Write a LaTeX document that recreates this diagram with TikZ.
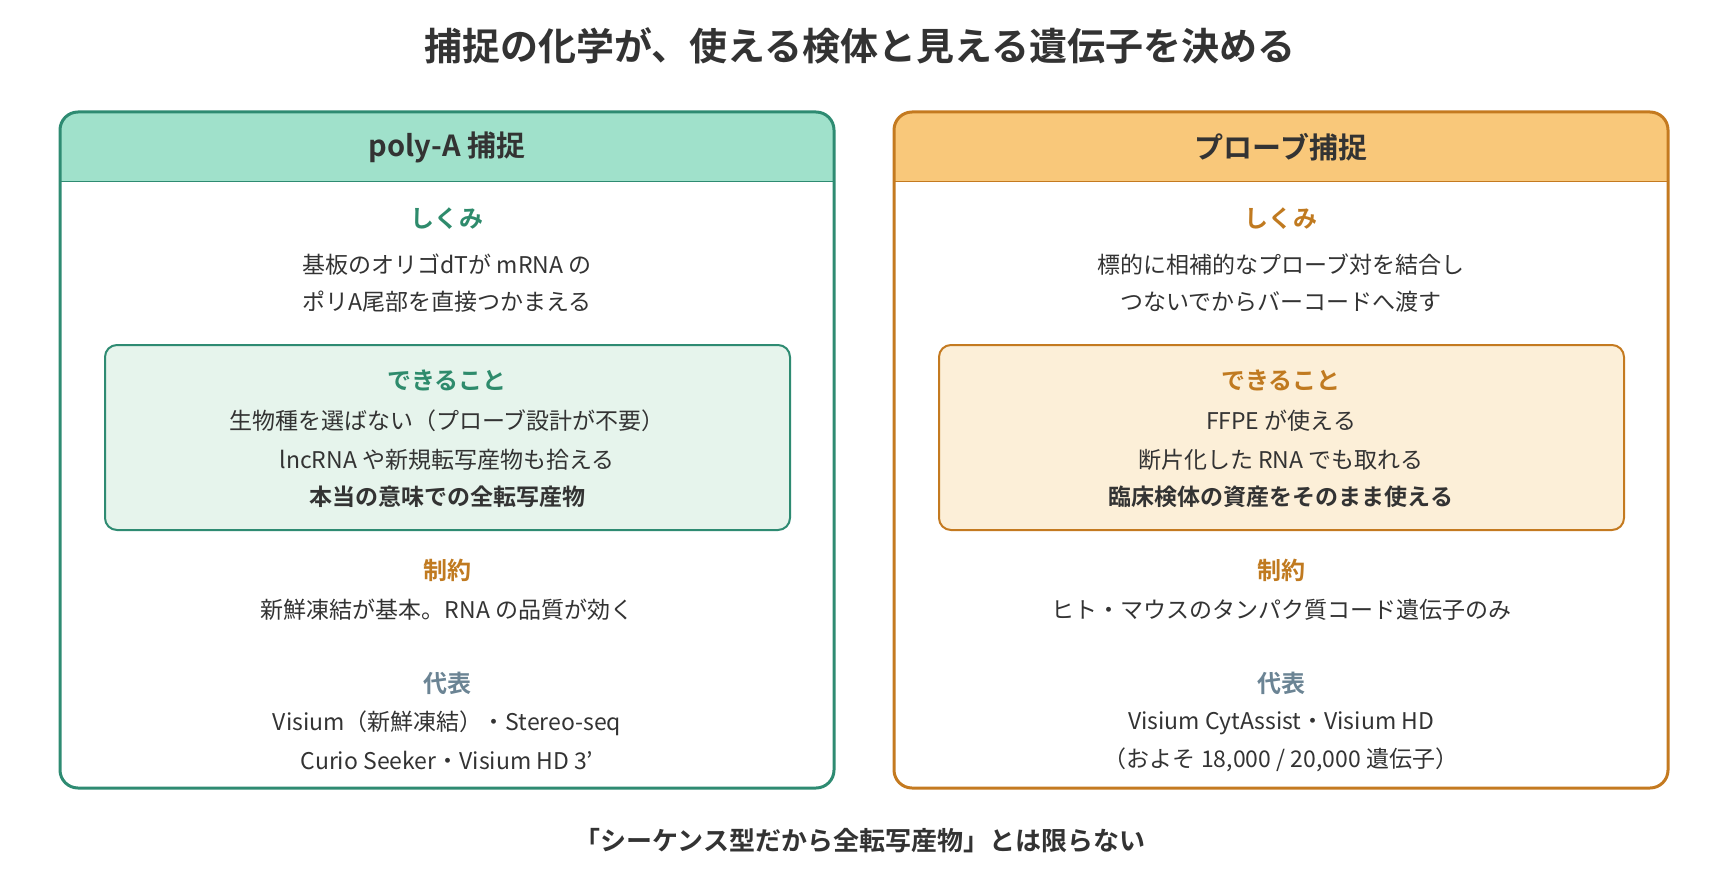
\documentclass[tikz,border=0pt]{standalone}
\usepackage{fontspec}
\setmainfont{Noto Sans CJK JP}[BoldFont={Noto Sans CJK JP Bold}]
\definecolor{txt}{HTML}{333333}
\definecolor{tealline}{HTML}{2E8B72}
\definecolor{tealhead}{HTML}{A0E1CB}
\definecolor{tealfill}{HTML}{E6F4EC}
\definecolor{tealtxt}{HTML}{2E8B6C}
\definecolor{orgline}{HTML}{C47A20}
\definecolor{orghead}{HTML}{F9C87A}
\definecolor{orgfill}{HTML}{FCEFD8}
\definecolor{orgtxt}{HTML}{C07A20}
\definecolor{reptxt}{HTML}{6B8494}

\begin{document}
\begin{tikzpicture}[x=1pt,y=-1pt,
  title/.style={font=\fontsize{38}{44}\selectfont\bfseries, text=txt},
  head/.style={font=\fontsize{29}{34}\selectfont\bfseries, text=txt},
  label/.style={font=\fontsize{24}{28}\selectfont\bfseries},
  body/.style={font=\fontsize{23}{28}\selectfont, text=txt},
  strong/.style={font=\fontsize{23}{28}\selectfont\bfseries, text=txt},
  note/.style={font=\fontsize{26}{30}\selectfont\bfseries, text=txt},
  ]
  \useasboundingbox (0,0) rectangle (1720,896);

  \node[title] (title) at (860,46) {捕捉の化学が、使える検体と見える遺伝子を決める};

  % poly-A panel
  \begin{scope}
    \clip[rounded corners=18] (60,112) rectangle (834,788);
    \fill[tealhead] (60,112) rectangle (834,182);
  \end{scope}
  \draw[tealline, line width=3, rounded corners=18] (60,112) rectangle (834,788);
  \draw[tealline, line width=1] (60,182) -- (834,182);
  \draw[tealline, line width=2, fill=tealfill, rounded corners=12] (105,345) rectangle (790,530);

  \node[head] (polyhead) at (447,147) {poly-A 捕捉};
  \node[label, text=tealtxt] (polymech) at (447,219) {しくみ};
  \node[body] (polym1) at (447,265) {基板のオリゴdTが mRNA の};
  \node[body] (polym2) at (447,302) {ポリA尾部を直接つかまえる};
  \node[label, text=tealtxt] (polycan) at (447,380) {できること};
  \node[body] (polyc1) at (447,421) {生物種を選ばない（プローブ設計が不要）};
  \node[body] (polyc2) at (447,460) {lncRNA や新規転写産物も拾える};
  \node[strong] (polyc3) at (447,497) {本当の意味での全転写産物};
  \node[label, text=orgtxt] (polylim) at (447,570) {制約};
  \node[body] (polyl1) at (447,610) {新鮮凍結が基本。RNA の品質が効く};
  \node[label, text=reptxt] (polyrep) at (447,683) {代表};
  \node[body] (polyr1) at (447,723) {Visium（新鮮凍結）・Stereo-seq};
  \node[body] (polyr2) at (447,760) {Curio Seeker・Visium HD 3'};

  % probe panel
  \begin{scope}
    \clip[rounded corners=18] (894,112) rectangle (1668,788);
    \fill[orghead] (894,112) rectangle (1668,182);
  \end{scope}
  \draw[orgline, line width=3, rounded corners=18] (894,112) rectangle (1668,788);
  \draw[orgline, line width=1] (894,182) -- (1668,182);
  \draw[orgline, line width=2, fill=orgfill, rounded corners=12] (939,345) rectangle (1624,530);

  \node[head] (probehead) at (1281,147) {プローブ捕捉};
  \node[label, text=orgtxt] (probemech) at (1281,219) {しくみ};
  \node[body] (probem1) at (1281,265) {標的に相補的なプローブ対を結合し};
  \node[body] (probem2) at (1281,302) {つないでからバーコードへ渡す};
  \node[label, text=orgtxt] (probecan) at (1281,380) {できること};
  \node[body] (probec1) at (1281,421) {FFPE が使える};
  \node[body] (probec2) at (1281,460) {断片化した RNA でも取れる};
  \node[strong] (probec3) at (1281,497) {臨床検体の資産をそのまま使える};
  \node[label, text=orgtxt] (probelim) at (1281,570) {制約};
  \node[body] (probel1) at (1281,610) {ヒト・マウスのタンパク質コード遺伝子のみ};
  \node[label, text=reptxt] (proberep) at (1281,683) {代表};
  \node[body] (prober1) at (1281,723) {Visium CytAssist・Visium HD};
  \node[body] (prober2) at (1281,760) {（およそ 18,000 / 20,000 遺伝子）};

  \node[note] (note) at (860,841) {「シーケンス型だから全転写産物」とは限らない};
\end{tikzpicture}
\end{document}
